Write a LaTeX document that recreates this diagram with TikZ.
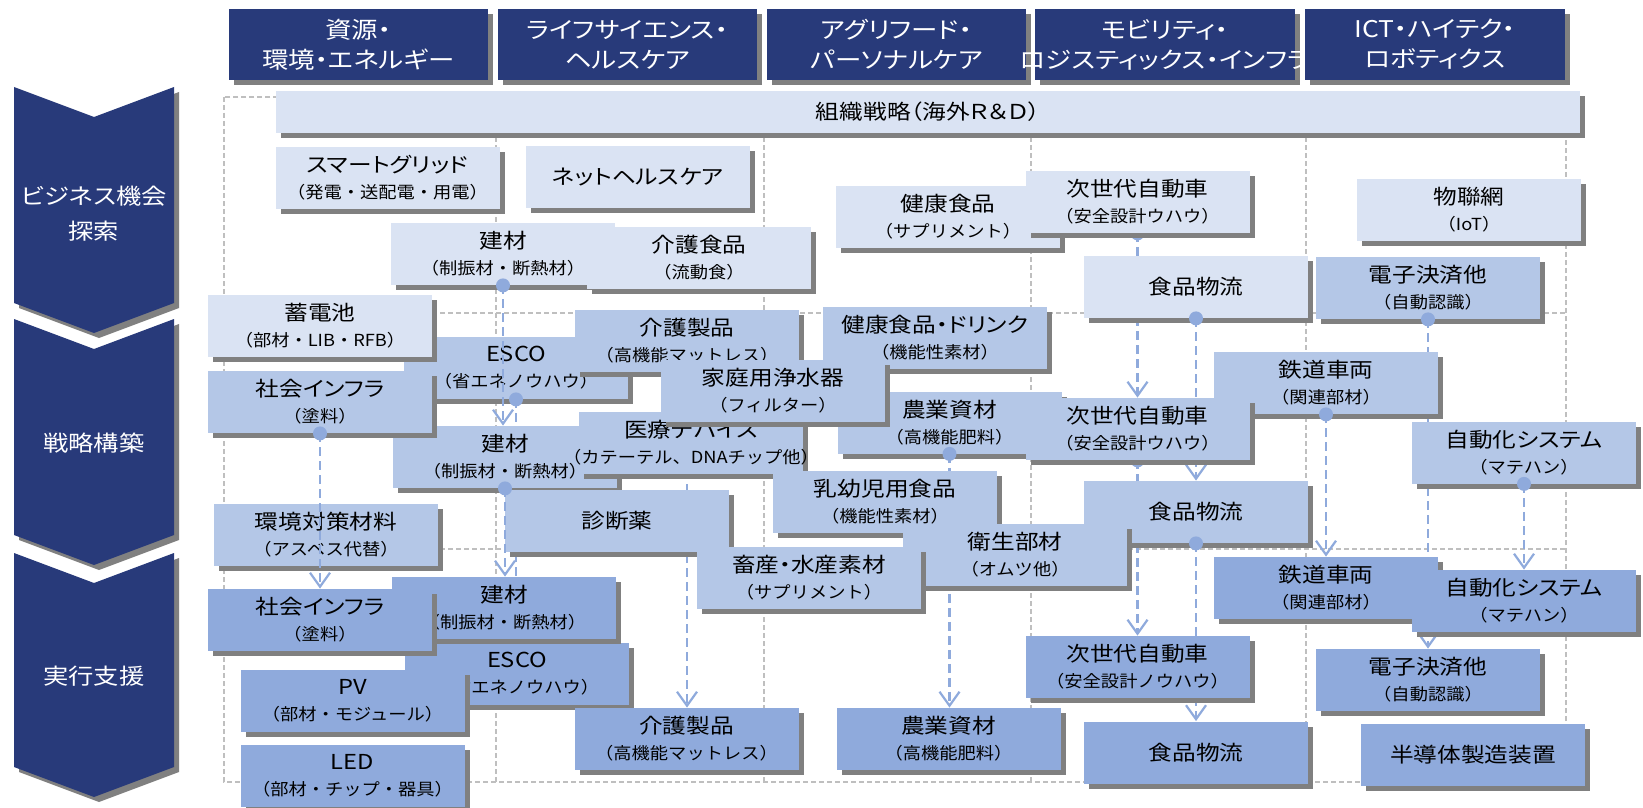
\documentclass[tikz,border=0pt]{standalone}
\usepackage{fontspec}
\usepackage{tikz}
\usetikzlibrary{arrows.meta,shadows}

\newfontfamily\jpfont[FakeStretch=1.15,RawFeature=+palt]{Noto Sans CJK JP}
\newfontfamily\jpsub[FakeStretch=1.1]{Noto Sans CJK JP}

\definecolor{navy}{RGB}{40,58,122}
\definecolor{boxA}{RGB}{218,227,243}
\definecolor{boxB}{RGB}{180,199,231}
\definecolor{boxC}{RGB}{143,170,220}
\definecolor{shd}{RGB}{128,128,128}
\definecolor{linkc}{RGB}{143,170,220}
\definecolor{gridc}{RGB}{191,191,191}

\pgfdeclarelayer{background}
\pgfdeclarelayer{links}
\pgfdeclarelayer{front}
\pgfsetlayers{background,links,main,front}

\newcommand{\subtxt}[1]{{\jpsub\fontsize{8.3}{13}\selectfont #1}}

\tikzset{
	tile/.style={minimum width=112pt, minimum height=31pt, inner sep=0pt, align=center,
		font=\jpfont\fontsize{10.3}{13}\selectfont,
		drop shadow={shadow xshift=2.5pt, shadow yshift=-2.5pt, fill=shd, opacity=1}},
	tileA/.style={tile, fill=boxA},
	tileB/.style={tile, fill=boxB},
	tileC/.style={tile, fill=boxC},
	colhead/.style={tile, fill=navy, text=white, minimum width=129.75pt, minimum height=35.5pt,
		font=\jpfont\fontsize{11.5}{15}\selectfont},
	phasetxt/.style={text=white, align=center, font=\jpfont\fontsize{11}{17.5}\selectfont},
	gridline/.style={draw=gridc, line width=0.7pt, dash pattern=on 2.5pt off 1.5pt},
	flow/.style={draw=linkc, line width=1.1pt, dash pattern=on 4.5pt off 2.5pt,
		-{Straight Barb[length=7pt,width=10pt]}},
}

\begin{document}
\begin{tikzpicture}[x=0.5pt,y=-0.5pt]
	\useasboundingbox (0,0) rectangle (1643,808);
	\begin{pgfonlayer}{background}
		\fill[white] (0,0) rectangle (1643,808);
		\draw[gridline] (224,97) rectangle (1566,782);
		\foreach \gx in {496,764,1031,1306} \draw[gridline] (\gx,97) -- (\gx,782);
		\foreach \gy in {313,549} \draw[gridline] (224,\gy) -- (1566,\gy);
	\end{pgfonlayer}

	% phases
	\foreach \ct/\cb in {87/303,319/535,553/767}{
		\fill[shd,shift={(5,5)}] (14,\ct) -- (94,\ct+30) -- (174,\ct) -- (174,\cb) -- (94,\cb+30) -- (14,\cb) -- cycle;
		\fill[navy] (14,\ct) -- (94,\ct+30) -- (174,\ct) -- (174,\cb) -- (94,\cb+30) -- (14,\cb) -- cycle;
	}
	\node[phasetxt] (phase1) at (94,214) {ビジネス機会\\探索};
	\node[phasetxt] (phase2) at (94,443) {戦略構築};
	\node[phasetxt] (phase3) at (94,676) {実行支援};

	% columns
	\node[colhead] (col1) at (358.3,44.5) {資源・\\環境・エネルギー};
	\node[colhead] (col2) at (627.5,44.5) {ライフサイエンス・\\ヘルスケア};
	\node[colhead] (col3) at (896.5,44.5) {アグリフード・\\パーソナルケア};
	\node[colhead] (col4) at (1165,44.5) {モビリティ・\\\makebox[0pt]{ロジスティックス・インフラ}};
	\node[colhead] (col5) at (1435,44.5) {ICT・ハイテク・\\ロボティクス};

	\node[tileA, minimum width=652pt, minimum height=21pt] (soshiki) at (928,112) {組織戦略（海外Ｒ＆Ｄ）};

	% business opportunity
	\node[tileA] (smart) at (387.5,178) {スマートグリッド\\\subtxt{（発電・送配電・用電）}};
	\node[tileA] (nethealth) at (638,177) {ネットヘルスケア};
	\node[tileA] (kenzai1) at (503,254) {建材\\\subtxt{（制振材・断熱材）}};
	\node[tileA] (kaigoshoku) at (699,257.5) {介護食品\\\subtxt{（流動食）}};
	\node[tileA] (iot) at (1469,210) {物聯網\\\subtxt{（IoT）}};
	\node[tileA] (kenko) at (948,217) {健康食品\\\subtxt{（サプリメント）}};
	\node[tileA] (jisedai1) at (1137.5,202) {次世代自動車\\\subtxt{（安全設計ウハウ）}};
	\node[tileA] (butsuryu1) at (1196,287) {食品物流};
	\node[tileB] (kessai1) at (1428,288) {電子決済他\\\subtxt{（自動認識）}};

	% strategy
	\node[tileB] (esco2) at (516,368) {ESCO\\\subtxt{（省エネノウハウ）}};
	\node[tileA] (chikuden) at (320,326) {蓄電池\\\subtxt{（部材・LIB・RFB）}};
	\node[tileB] (kaigo2) at (687,341) {介護製品\\\subtxt{（高機能マットレス）}};
	\node[tileB] (drink) at (935,338) {健康食品・ドリンク\\\subtxt{（機能性素材）}};
	\node[tileB] (tetsudo2) at (1326,383) {鉄道車両\\\subtxt{（関連部材）}};
	\node[tileB] (nogyo2) at (949.5,422.5) {農業資材\\\subtxt{（高機能肥料）}};
	\node[tileB] (jisedai2) at (1137.5,429) {次世代自動車\\\subtxt{（安全設計ウハウ）}};
	\node[tileB] (jidoka2) at (1524,452.5) {自動化システム\\\subtxt{（マテハン）}};
	\node[tileB] (kenzai2) at (505,457) {建材\\\subtxt{（制振材・断熱材）}};
	\node[tileB] (infra2) at (320,402) {社会インフラ\\\subtxt{（塗料）}};
	\node[tileB] (iryo) at (691,443) {医療デバイス\\\subtxt{\makebox[0pt]{（カテーテル、DNAチップ他）}}};
	\node[tileB] (jousui) at (773,390.5) {家庭用浄水器\\\subtxt{（フィルター）}};
	\node[tileB] (nyuyoji) at (885,502) {乳幼児用食品\\\subtxt{（機能性素材）}};
	\node[tileB] (butsuryu2) at (1196,512) {食品物流};
	\node[tileB] (shindan) at (617,521) {診断薬};
	\node[tileB] (kankyo) at (326,535) {環境対策材料\\\subtxt{（アスベス代替）}};
	\node[tileB] (eisei) at (1015,555) {衛生部材\\\subtxt{（オムツ他）}};
	\node[tileB] (chikusan) at (809,577.5) {畜産・水産素材\\\subtxt{（サプリメント）}};

	% execution
	\node[tileC] (esco3) at (517,673.5) {ESCO\\\subtxt{（省エネノウハウ）}};
	\node[tileC] (kenzai3) at (504,608) {建材\\\subtxt{（制振材・断熱材）}};
	\node[tileC] (infra3) at (320,620) {社会インフラ\\\subtxt{（塗料）}};
	\node[tileC] (pv) at (352.5,701) {PV\\\subtxt{（部材・モジュール）}};
	\node[tileC] (led) at (352.5,776) {LED\\\subtxt{（部材・チップ・器具）}};
	\node[tileC] (tetsudo3) at (1326,588) {鉄道車両\\\subtxt{（関連部材）}};
	\node[tileC] (jidoka3) at (1524,601) {自動化システム\\\subtxt{（マテハン）}};
	\node[tileC] (jisedai3) at (1137.5,667) {次世代自動車\\\subtxt{（安全設計ノウハウ）}};
	\node[tileC] (kessai3) at (1428,680) {電子決済他\\\subtxt{（自動認識）}};
	\node[tileC] (kaigo3) at (686.5,739) {介護製品\\\subtxt{（高機能マットレス）}};
	\node[tileC] (nogyo3) at (948.5,739) {農業資材\\\subtxt{（高機能肥料）}};
	\node[tileC] (butsuryu3) at (1196,752.5) {食品物流};
	\node[tileC] (handotai) at (1473,755) {半導体製造装置};

	% links behind the boxes
	\begin{pgfonlayer}{links}
		\foreach \a/\b in {esco2/esco3,kaigo2/kaigo3,nogyo2/nogyo3,jisedai1/jisedai2,butsuryu1/butsuryu2,
			jisedai2/jisedai3,butsuryu2/butsuryu3,tetsudo2/tetsudo3,jidoka2/jidoka3,kessai1/kessai3}
			\draw[flow] (\a.south) -- (\a.south |- \b.north);
		\foreach \a in {jisedai1,jisedai2,kaigo2}
			\fill[linkc] (\a.south) circle (3.5pt);
	\end{pgfonlayer}

	% links over the boxes
	\begin{pgfonlayer}{front}
		\foreach \a/\b in {kenzai1/kenzai2,kenzai2/kenzai3,infra2/infra3}
			\draw[flow] (\a.south) -- (\a.south |- \b.north);
		\foreach \a in {kenzai1,esco2,infra2,kenzai2,nogyo2,butsuryu1,kessai1,tetsudo2,jidoka2,butsuryu2}
			\fill[linkc] (\a.south) circle (3.5pt);
	\end{pgfonlayer}
\end{tikzpicture}
\end{document}
